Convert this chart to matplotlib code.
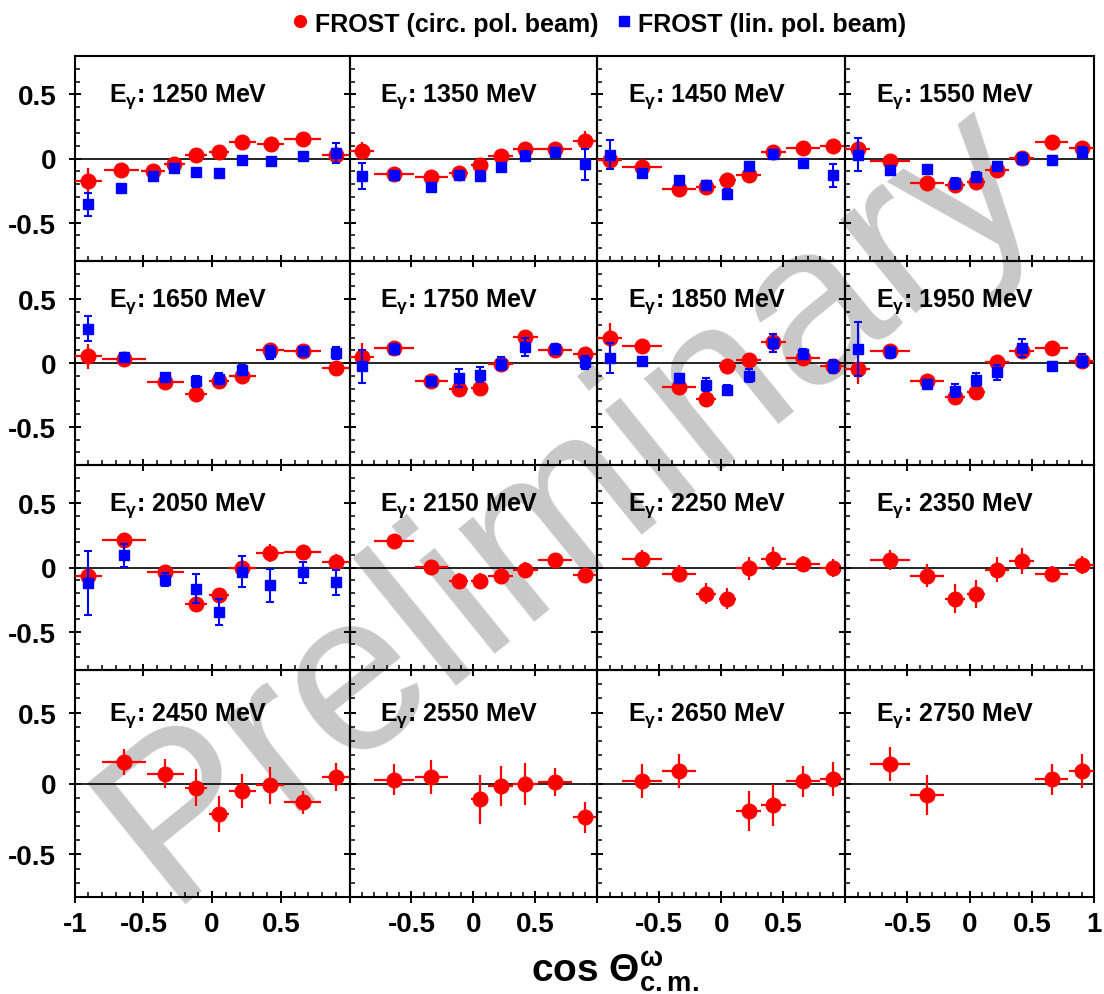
import numpy as np
import matplotlib
matplotlib.use("Agg")
import matplotlib.pyplot as plt
from matplotlib.ticker import MultipleLocator, FuncFormatter
from matplotlib.lines import Line2D

plt.rcParams['font.family'] = ['Liberation Sans', 'DejaVu Sans']
plt.rcParams['font.weight'] = 'bold'
plt.rcParams['axes.unicode_minus'] = False
plt.rcParams['mathtext.fontset'] = 'custom'
plt.rcParams['mathtext.rm'] = 'Liberation Sans:bold'
plt.rcParams['mathtext.bf'] = 'Liberation Sans:bold'
plt.rcParams['mathtext.it'] = 'Liberation Sans:bold'
plt.rcParams['mathtext.default'] = 'rm'

nan = np.nan

# photon energies (MeV), one panel each
energies = [1250, 1350, 1450, 1550, 1650, 1750, 1850, 1950,
            2050, 2150, 2250, 2350, 2450, 2550, 2650, 2750]

# cos(theta) bins
cos_bins = [-0.90, -0.64, -0.34, -0.12, 0.05, 0.22, 0.42, 0.66, 0.90]
cos_halfw = [0.10, 0.16, 0.135, 0.08, 0.07, 0.10, 0.10, 0.135, 0.10]
# first energy has a finer binning
cos_bins_1250 = [-0.90, -0.66, -0.43, -0.275, -0.12, 0.05, 0.22, 0.425, 0.66, 0.90]
cos_halfw_1250 = [0.10, 0.13, 0.085, 0.075, 0.08, 0.07, 0.10, 0.10, 0.135, 0.10]

# circularly polarised beam
circ_vals = [
    [-0.177, -0.086, -0.099, -0.042, 0.026, 0.047, 0.127, 0.114, 0.151, 0.031],
    [0.057, -0.122, -0.145, -0.112, -0.052, 0.021, 0.073, 0.078, 0.135],
    [-0.013, -0.070, -0.239, -0.221, -0.164, -0.130, 0.047, 0.083, 0.099],
    [0.078, -0.021, -0.190, -0.208, -0.187, -0.091, 0.005, 0.130, 0.083],
    [0.052, 0.034, -0.151, -0.244, -0.145, -0.099, 0.099, 0.094, -0.036],
    [0.044, 0.117, -0.143, -0.203, -0.195, -0.008, 0.203, 0.099, 0.073],
    [0.195, 0.130, -0.190, -0.286, -0.021, 0.021, 0.161, 0.039, -0.026],
    [-0.047, 0.091, -0.138, -0.265, -0.229, 0.005, 0.091, 0.117, 0.013],
    [-0.065, 0.218, -0.039, -0.288, -0.216, 0.000, 0.114, 0.122, 0.044],
    [nan, 0.205, 0.005, -0.106, -0.106, -0.065, -0.016, 0.057, -0.060],
    [nan, 0.070, -0.047, -0.203, -0.242, -0.005, 0.068, 0.031, -0.005],
    [nan, 0.057, -0.065, -0.242, -0.208, -0.016, 0.049, -0.047, 0.018],
    [nan, 0.152, 0.070, -0.030, -0.215, -0.052, -0.012, -0.133, 0.047],
    [nan, 0.028, 0.047, nan, -0.112, -0.016, -0.005, 0.012, -0.239],
    [nan, 0.016, 0.089, nan, nan, -0.192, -0.152, 0.016, 0.030],
    [nan, 0.140, -0.082, nan, nan, nan, nan, 0.030, 0.087],
]
circ_errs = [
    [0.10, 0.03, 0.03, 0.03, 0.03, 0.03, 0.03, 0.03, 0.03, 0.07],
    [0.07, 0.03, 0.03, 0.03, 0.03, 0.03, 0.03, 0.03, 0.08],
    [0.08, 0.03, 0.03, 0.03, 0.03, 0.03, 0.03, 0.03, 0.05],
    [0.07, 0.03, 0.03, 0.03, 0.03, 0.03, 0.03, 0.03, 0.05],
    [0.10, 0.03, 0.03, 0.03, 0.03, 0.03, 0.03, 0.03, 0.04],
    [0.11, 0.03, 0.03, 0.03, 0.03, 0.03, 0.03, 0.03, 0.03],
    [0.12, 0.04, 0.04, 0.05, 0.03, 0.03, 0.05, 0.04, 0.04],
    [0.12, 0.04, 0.03, 0.05, 0.05, 0.04, 0.05, 0.04, 0.04],
    [0.04, 0.04, 0.04, 0.06, 0.05, 0.04, 0.07, 0.04, 0.06],
    [nan, 0.04, 0.05, 0.06, 0.06, 0.06, 0.06, 0.04, 0.05],
    [nan, 0.07, 0.07, 0.08, 0.08, 0.09, 0.09, 0.06, 0.07],
    [nan, 0.08, 0.09, 0.11, 0.11, 0.10, 0.10, 0.06, 0.07],
    [nan, 0.09, 0.10, 0.13, 0.13, 0.12, 0.13, 0.08, 0.10],
    [nan, 0.11, 0.12, nan, 0.17, 0.14, 0.15, 0.10, 0.11],
    [nan, 0.12, 0.12, nan, nan, 0.14, 0.15, 0.11, 0.12],
    [nan, 0.12, 0.14, nan, nan, nan, nan, 0.11, 0.12],
]

# linearly polarised beam (only up to 2050 MeV)
lin_vals = [
    [-0.358, -0.229, -0.135, -0.078, -0.104, -0.117, -0.013, -0.021, 0.021, 0.044],
    [-0.135, -0.125, -0.220, -0.130, -0.138, -0.070, 0.021, 0.050, -0.045],
    [0.031, -0.112, -0.171, -0.208, -0.278, -0.060, 0.039, -0.039, -0.130],
    [0.031, -0.091, -0.083, -0.195, -0.143, -0.057, 0.000, -0.013, 0.047],
    [0.270, 0.044, -0.112, -0.145, -0.122, -0.052, 0.083, 0.096, 0.078],
    [-0.026, 0.109, -0.138, -0.117, -0.091, -0.005, 0.125, 0.112, 0.005],
    [0.039, 0.018, -0.117, -0.169, -0.213, -0.099, 0.156, 0.073, -0.026],
    [0.109, 0.083, -0.164, -0.216, -0.130, -0.073, 0.117, -0.021, 0.018],
    [-0.119, 0.096, -0.094, -0.164, -0.345, -0.034, -0.138, -0.039, -0.117],
]
lin_errs = [
    [0.09, 0.02, 0.02, 0.02, 0.02, 0.02, 0.02, 0.02, 0.02, 0.08],
    [0.10, 0.02, 0.02, 0.03, 0.04, 0.03, 0.04, 0.03, 0.12],
    [0.11, 0.02, 0.03, 0.03, 0.04, 0.03, 0.03, 0.03, 0.09],
    [0.13, 0.03, 0.02, 0.04, 0.04, 0.03, 0.04, 0.03, 0.04],
    [0.10, 0.02, 0.02, 0.04, 0.04, 0.04, 0.05, 0.02, 0.05],
    [0.13, 0.04, 0.02, 0.07, 0.06, 0.05, 0.07, 0.04, 0.05],
    [0.12, 0.03, 0.03, 0.05, 0.04, 0.05, 0.07, 0.04, 0.05],
    [0.21, 0.04, 0.03, 0.05, 0.05, 0.06, 0.07, 0.03, 0.05],
    [0.25, 0.09, 0.05, 0.11, 0.10, 0.12, 0.13, 0.08, 0.10],
]

W, H = 1104, 995
fig = plt.figure(figsize=(W / 100, H / 100), dpi=100)
gs = fig.add_gridspec(4, 4, left=74.7 / W, right=1094 / W,
                      top=1 - 57 / H, bottom=1 - 898 / H,
                      width_ratios=[275, 248, 248, 249],
                      height_ratios=[205, 204, 205, 227],
                      wspace=0, hspace=0)

# which x labels each column shows (ROOT drops the ones on the pad edge)
xlab_show = [(-1, -0.5, 0, 0.5), (-0.5, 0, 0.5), (-0.5, 0, 0.5), (-0.5, 0, 0.5, 1)]

def fmt_num(v):
    if abs(v) < 1e-9:
        return "0"
    return f"{v:g}"

for i, e in enumerate(energies):
    r, c = divmod(i, 4)
    ax = fig.add_subplot(gs[r, c])
    ax.set_facecolor('none')
    ax.set_xlim(-1, 1)
    ax.set_ylim(-0.8, 0.8)
    ax.axhline(0, color='black', lw=1.2, zorder=1)

    if i == 0:
        xb, xw = cos_bins_1250, cos_halfw_1250
    else:
        xb, xw = cos_bins, cos_halfw
    xb = np.array(xb)
    xw = np.array(xw)

    y = np.array(circ_vals[i])
    ye = np.array(circ_errs[i])
    ok = np.isfinite(y)
    ax.errorbar(xb[ok], y[ok], yerr=ye[ok], xerr=xw[ok], fmt='o', color='#ff0000',
                ms=10.5, elinewidth=1.6, capsize=0, zorder=3)

    if i < len(lin_vals):
        yl = np.array(lin_vals[i])
        yle = np.array(lin_errs[i])
        ax.errorbar(xb, yl, yerr=yle, fmt='s', color='#0000ff', ms=7,
                    elinewidth=1.5, capsize=3, capthick=1.5, zorder=4)

    ax.text(-0.75, 0.45, r"E$_{γ}$: %d MeV" % e, fontsize=18, fontweight='bold',
            ha='left', va='baseline', zorder=5)

    ax.xaxis.set_major_locator(MultipleLocator(0.5))
    ax.xaxis.set_minor_locator(MultipleLocator(0.1))
    ax.yaxis.set_major_locator(MultipleLocator(0.5))
    ax.yaxis.set_minor_locator(MultipleLocator(0.1))
    ax.tick_params(which='major', direction='inout', length=8.5, width=1.4,
                   top=False, right=False, labelsize=20)
    ax.tick_params(which='minor', direction='in', length=3.5, width=1.1,
                   top=False, right=False)
    ax.tick_params(axis='x', which='major', pad=5.5)
    ax.tick_params(axis='y', which='major', pad=9)
    for s in ax.spines.values():
        s.set_linewidth(1.5)

    if c == 0:
        ax.yaxis.set_major_formatter(FuncFormatter(lambda v, p: fmt_num(v)))
    else:
        ax.tick_params(labelleft=False)
    if r == 3:
        show = xlab_show[c]
        ax.xaxis.set_major_formatter(FuncFormatter(
            lambda v, p, show=show: fmt_num(v) if any(abs(v - s) < 1e-6 for s in show) else ""))
    else:
        ax.tick_params(labelbottom=False)
    for lab in ax.get_xticklabels() + ax.get_yticklabels():
        lab.set_fontweight('bold')

# axis title
fig.text(531 / W, 1 - 981 / H, r"cos $Θ^{ω}_{c.m.}$", fontsize=28, fontweight='bold',
         ha='left', va='baseline')

# legend on top
fig.add_artist(Line2D([300 / W], [1 - 22 / H], marker='o', color='#ff0000', ms=8.5,
                      transform=fig.transFigure))
fig.text(315 / W, 1 - 32 / H, "FROST (circ. pol. beam)", fontsize=18,
         fontweight='bold', ha='left', va='baseline')
fig.add_artist(Line2D([624 / W], [1 - 22 / H], marker='s', color='#0000ff', ms=6.5,
                      transform=fig.transFigure))
fig.text(638 / W, 1 - 32 / H, "FROST (lin. pol. beam)", fontsize=18,
         fontweight='bold', ha='left', va='baseline')

# watermark
fig.text(570 / W, 1 - 503 / H, "Preliminary", fontsize=163, fontweight='normal',
         color='#c8c8c8', rotation=39, ha='center', va='center',
         rotation_mode='anchor', zorder=-1)

fig.savefig("out.png", dpi=100)
